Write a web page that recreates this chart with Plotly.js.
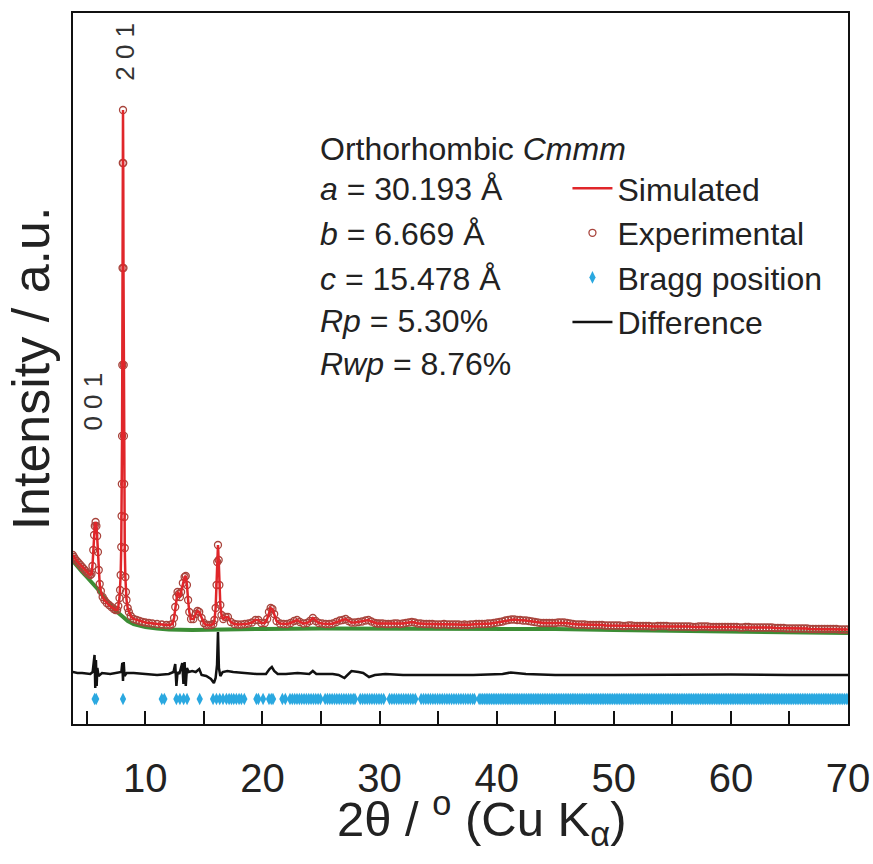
<!DOCTYPE html>
<html>
<head>
<meta charset="utf-8">
<script src="https://cdn.plot.ly/plotly-3.0.1.min.js"></script>
<style>html,body{margin:0;padding:0;background:#fff;}#chart{width:873px;height:864px;}</style>
</head>
<body>
<div id="chart"></div>
<script>
// 2θ (degrees) of the measured / refined profile
const twoTheta = [3.80,3.90,4.00,4.15,4.30,4.45,4.60,4.75,4.90,5.05,5.20,5.30,5.40,5.48,5.55,5.62,5.68,5.75,5.82,5.88,5.95,6.02,6.10,6.20,6.35,6.50,6.70,6.90,7.10,7.30,7.45,7.59,7.69,7.79,7.84,7.89,7.94,7.97,7.99,8.01,8.03,8.05,8.07,8.09,8.11,8.13,8.15,8.17,8.19,8.21,8.24,8.29,8.34,8.39,8.49,8.59,8.75,9.00,9.25,9.50,9.75,10.0,10.3,10.6,11.0,11.4,11.8,12.1,12.30,12.45,12.55,12.65,12.75,12.85,12.95,13.05,13.20,13.35,13.45,13.55,13.65,13.75,13.90,14.10,14.30,14.45,14.60,14.80,15.00,15.20,15.40,15.60,15.80,15.90,16.00,16.08,16.14,16.20,16.26,16.32,16.40,16.50,16.65,16.85,17.05,17.30,17.60,17.90,18.20,18.50,18.80,19.10,19.40,19.65,19.90,20.20,20.40,20.55,20.70,20.85,21.00,21.20,21.50,21.80,22.10,22.40,22.70,22.95,23.20,23.50,23.80,24.05,24.30,24.55,24.80,25.10,25.40,25.70,26.00,26.30,26.60,26.85,27.10,27.35,27.60,27.90,28.20,28.50,28.80,29.05,29.30,29.60,29.80,30.00,30.25,30.50,30.75,31.00,31.25,31.50,31.75,32.00,32.25,32.50,32.75,33.00,33.25,33.50,33.75,34.00,34.25,34.50,34.75,35.00,35.25,35.50,35.75,36.00,36.25,36.50,36.75,37.00,37.25,37.50,37.75,38.00,38.25,38.50,38.75,39.00,39.25,39.50,39.75,40.00,40.25,40.50,40.75,41.00,41.25,41.50,41.75,42.00,42.25,42.50,42.75,43.00,43.25,43.50,43.75,44.00,44.25,44.50,44.75,45.00,45.25,45.50,45.75,46.00,46.25,46.50,46.75,47.00,47.25,47.50,47.75,48.00,48.25,48.50,48.75,49.00,49.25,49.50,49.75,50.00,50.25,50.50,50.75,51.00,51.25,51.50,51.75,52.00,52.25,52.50,52.75,53.00,53.25,53.50,53.75,54.00,54.25,54.50,54.75,55.00,55.25,55.50,55.75,56.00,56.25,56.50,56.75,57.00,57.25,57.50,57.75,58.00,58.25,58.50,58.75,59.00,59.25,59.50,59.75,60.00,60.25,60.50,60.75,61.00,61.25,61.50,61.75,62.00,62.25,62.50,62.75,63.00,63.25,63.50,63.75,64.00,64.25,64.50,64.75,65.00,65.25,65.50,65.75,66.00,66.25,66.50,66.75,67.00,67.25,67.50,67.75,68.00,68.25,68.50,68.75,69.00,69.25,69.50,69.75,70.00];
// intensity (a.u.) of the experimental points; the refined (simulated) curve lies on them
const observed = [169,167,165,163,161,159,157,155,153,151,150,149,150,158,174,189,198,202,198,188,172,154,140,133,127,124,121,119,117,115,114,114,118,126,134,149,177,208,240,288,359,456,561,614,561,456,359,288,240,207,176,147,132,124,116,112,108,105,104,103,102,101.5,101,100.5,100,99.5,99,99,100,106,117,127,132,130,127,132,141,147,148,139,124,112,105,105,110,113,112,106,101,99,99,99,100,104,116,139,162,179,164,139,119,109,105,107,107,102,100,99.5,99.5,100,100.5,101.5,104,104,101,101,105,112,116,115,110,103,100.5,100,100,101,103,104,102,100.5,101,103,106,103,101,100.5,100,100,100.5,102,103.5,104,105,103,101.5,101.5,102,102.5,103.5,104,102.5,101,100.5,100.5,100.5,100,100,100,100.5,100.5,100,100.5,101,101.5,102,101.5,100.5,100.5,100,100,100,100,99.5,99.5,99.5,100,99.5,99.5,99.5,99.5,99.5,99,99.5,99,99.5,99.5,100,100,100,100,100.5,100.5,101,101.5,102,102.5,103.5,104,104.5,104.5,104,104,103.5,103.5,103,102.5,102,101.5,101,101,101,101,101,101,101.5,101.5,101.5,101,100.5,100,99.5,99.5,99.5,99.5,99,99,99,99,99,99,98.5,98.5,98.5,98.5,98.5,98.5,98,98,98.5,98.5,98,98,98,98,98,98,97.5,97.5,98,98,98,98,97.5,97.5,97.5,97.5,97.5,97.5,97.5,97.5,97,97,97.5,97.5,97.5,97.5,97,97,97,97,97,97,97,97,97,97,96.5,96.5,97,97,96.5,96.5,96.5,96.5,96.5,96.5,96.5,96.5,96,96,96,96,95.5,95.5,95.5,95.5,95.5,95.5,95.5,95.5,95,95,95,95,95,95,95,95,95,95,94.5,94.5,94.5,94.5];
const simulated = observed;

// background curve
const bgTheta = [3.8,4.2,4.6,5.0,5.5,6.0,6.5,7.0,7.5,8.0,8.5,9.0,9.5,10,11,12,14,16,18,20,25,30,35,40,45,50,55,60,65,70];
const background = [163,157,152,147,141,134,126,119,113,108,103,100,98,97,95.5,94.5,94,94,94.5,95,95.5,95.5,95,95.5,95,94,93.5,93,92,91];

// difference curve (offset)
const diffTheta = [3.80,4.20,4.60,5.00,5.30,5.50,5.60,5.66,5.72,5.78,5.84,5.90,6.00,6.30,7.00,7.60,7.95,8.03,8.09,8.15,8.22,8.40,9.0,10.0,11.0,12.0,12.4,12.55,12.65,12.75,12.90,13.15,13.25,13.35,13.45,13.55,13.70,14.0,14.3,14.6,14.8,15.2,15.6,15.85,16.0,16.12,16.20,16.28,16.40,16.6,17.0,17.5,18.5,19.5,20.3,20.6,20.8,21.0,21.3,22,23,24,24.3,24.6,26,26.5,27.0,27.3,27.6,28.2,28.6,29.1,29.6,30.5,32,35,38,40.5,41.2,42.5,45,50,55,60,65,70];
const difference = [52,51,51,50,50,52,62,69,36,64,38,56,48,51,50,51,52,61,43,62,48,51,51,50,49,50,52,60,38,52,50,61,40,62,38,56,52,53,52,55,49,48,45,41,46,59,92,56,48,52,53,52,51,50,50,55,57,53,50,50,51,50,53,50,50,49,46,50,53,52,51,47,49,50,49,49,49,50,51.5,50,49,49,49.5,49.5,49,49];

// Bragg reflection positions (2θ)
const braggPositions = [5.67,5.80,8.09,11.40,11.62,12.65,12.95,13.27,13.56,14.64,15.78,16.07,16.35,16.63,16.92,17.15,17.35,17.55,17.77,18.00,18.20,18.45,19.48,19.65,20.05,20.56,20.75,20.90,21.70,21.95,
22.35,22.55,22.75,22.95,23.15,23.35,23.55,23.75,23.95,24.15,24.35,24.55,24.75,24.95,
25.35,25.55,25.75,25.95,26.15,26.35,26.55,26.75,26.95,27.15,27.35,27.55,27.75,27.90,
28.35,28.55,28.75,28.95,29.15,29.35,29.55,29.75,29.95,30.15,30.35,
30.85,31.05,31.25,31.45,31.65,31.85,32.05,32.25,32.45,32.65,32.85,33.05,
33.55,33.75,33.95,34.15,34.35,34.55,34.75,34.95,35.15,35.35,35.55,35.75,35.95,36.15,36.35,36.55,36.75,36.95,37.15,37.35,37.55,37.75,37.95,38.10,
38.50,38.65,38.80,38.95,39.10,39.25,39.40,39.55,39.70,39.85,40.00,40.15,40.30,40.45,40.60,40.75,40.90,41.05,41.20,41.35,41.50,41.65,41.80,41.95,42.10,42.25,42.40,42.55,42.70,42.85,43.00,43.15,43.30,43.45,43.60,43.75,43.90,44.05,44.20,44.35,44.50,44.65,44.80,44.95,45.10,45.25,45.40,45.55,45.70,45.85,46.00,46.15,46.30,46.45,46.60,46.75,46.90,47.05,47.20,47.35,47.50,47.65,47.80,47.95,48.10,48.25,48.40,48.55,48.70,48.85,49.00,49.15,49.30,49.45,49.60,49.75,49.90,50.05,50.20,50.35,50.50,50.65,50.80,50.95,51.10,51.25,51.40,51.55,51.70,51.85,52.00,52.15,52.30,52.45,52.60,52.75,52.90,53.05,53.20,53.35,53.50,53.65,53.80,53.95,54.10,54.25,54.40,54.55,54.70,54.85,55.00,55.15,55.30,55.45,55.60,55.75,55.90,56.05,56.20,56.35,56.50,56.65,56.80,56.95,57.10,57.25,57.40,57.55,57.70,57.85,58.00,58.15,58.30,58.45,58.60,58.75,58.90,59.05,59.20,59.35,59.50,59.65,59.80,59.95,60.10,60.25,60.40,60.55,60.70,60.85,61.00,61.15,61.30,61.45,61.60,61.75,61.90,62.05,62.20,62.35,62.50,62.65,62.80,62.95,63.10,63.25,63.40,63.55,63.70,63.85,64.00,64.15,64.30,64.45,64.60,64.75,64.90,65.05,65.20,65.35,65.50,65.65,65.80,65.95,66.10,66.25,66.40,66.55,66.70,66.85,67.00,67.15,67.30,67.45,67.60,67.75,67.90,68.05,68.20,68.35,68.50,68.65,68.80,68.95,69.10,69.25,69.40,69.55,69.70,69.85,70.00];
const braggLevel = 25;

// axis ticks
const tickValues = [10,20,30,40,50,60,70];
const tickLabels = ['10','20','30','40','50','60','70'];
const minorTickValues = [5,15,25,35,45,55,65];

// annotation texts
const cellLines = ['Orthorhombic <i>Cmmm</i>','<i>a</i> = 30.193 Å','<i>b</i> = 6.669 Å','<i>c</i> = 15.478 Å','<i>Rp</i> = 5.30%','<i>Rwp</i> = 8.76%'];
const cellLineY = [0.8087,0.7525,0.6892,0.6259,0.5668,0.5063];
const peakLabels = [{text:'2 0 1', x:8.23, y:0.945},{text:'0 0 1', x:5.5, y:0.453}];
const xTitle = '2θ / <sup>o</sup> (Cu K<sub>α</sub>)';
const yTitle = 'Intensity / a.u.';

const ARIAL = 'Liberation Sans, Arial, sans-serif';
const NARROW = 'Liberation Sans Narrow, Arial Narrow, Liberation Sans, sans-serif';

const traces = [
  {x:bgTheta, y:background, mode:'lines', line:{color:'#3c8d35', width:4}, showlegend:false, hoverinfo:'skip'},
  {x:twoTheta, y:observed, mode:'markers', name:'Experimental', legendrank:2, legendgroup:'b',
   marker:{symbol:'circle-open', size:7, color:'#a8443c', line:{width:1.3, color:'#a8443c'}}},
  {x:twoTheta, y:simulated, mode:'lines', name:'Simulated', legendrank:1, legendgroup:'a',
   line:{color:'#e0262a', width:2.5}},
  {x:braggPositions, y:braggPositions.map(() => braggLevel), mode:'markers', name:'Bragg position', legendrank:3, legendgroup:'c',
   marker:{symbol:'diamond-tall', size:9, color:'#2aa8e0'}},
  {x:diffTheta, y:difference, mode:'lines', name:'Difference', legendrank:4, legendgroup:'d',
   line:{color:'#111111', width:2.5}}
];

const annotations = cellLines.map((t, i) => ({
  text:t, xref:'paper', yref:'paper', x:0.3161, y:cellLineY[i], xanchor:'left', yanchor:'middle',
  showarrow:false, font:{family:ARIAL, size:32, color:'#222'}
})).concat(peakLabels.map(p => ({
  text:p.text, xref:'x', yref:'paper', x:p.x, y:p.y, textangle:-90, showarrow:false,
  xanchor:'center', yanchor:'middle', font:{family:ARIAL, size:26, color:'#333'}
}))).concat([{
  text:xTitle, xref:'paper', yref:'paper', x:0.527, y:-0.1335, xanchor:'center', yanchor:'middle',
  showarrow:false, font:{family:ARIAL, size:49, color:'#222'}
}]);

const layout = {
  width:873, height:864,
  margin:{l:73, r:25, t:13, b:140},
  paper_bgcolor:'#fff', plot_bgcolor:'#fff',
  showlegend:true,
  legend:{x:0.638, y:0.792, xanchor:'left', yanchor:'top', bgcolor:'rgba(0,0,0,0)',
          font:{family:ARIAL, size:32, color:'#222'}, tracegroupgap:0, itemwidth:40},
  xaxis:{range:[3.82,70], tickmode:'array', tickvals:tickValues, ticktext:tickLabels, ticks:'inside', ticklen:13, tickwidth:2,
         tickcolor:'#111', showline:true, linewidth:2, linecolor:'#111', mirror:true, showgrid:false, zeroline:false,
         minor:{tickmode:'array', tickvals:minorTickValues, ticks:'inside', ticklen:13, tickwidth:2, tickcolor:'#111', showgrid:false},
         tickfont:{family:NARROW, size:40, color:'#222'}, ticklabelstandoff:18},
  yaxis:{range:[0,711], showticklabels:false, ticks:'', showline:true, linewidth:2, linecolor:'#111', mirror:true,
         showgrid:false, zeroline:false,
         title:{text:yTitle, font:{family:ARIAL, size:52, color:'#222'}, standoff:5}},
  annotations:annotations
};

Plotly.newPlot('chart', traces, layout, {displayModeBar:false, staticPlot:true});
</script>
</body>
</html>
